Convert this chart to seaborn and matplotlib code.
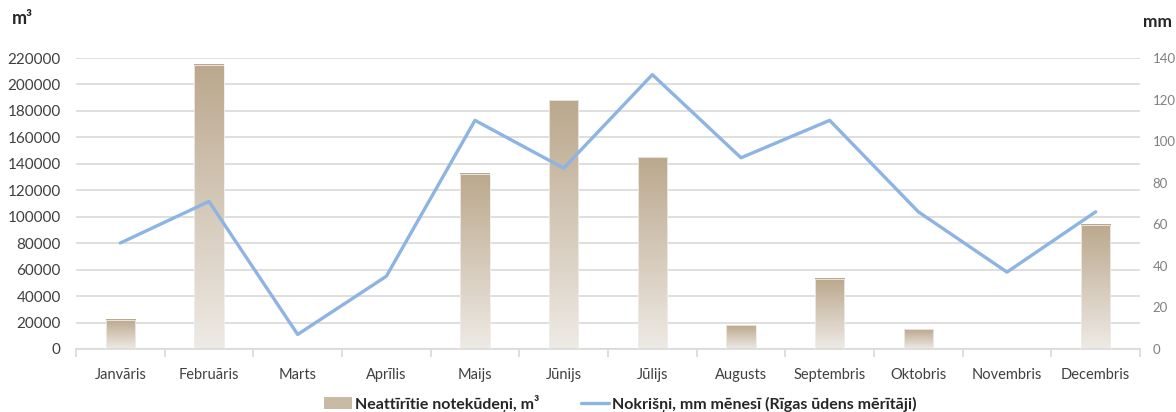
import numpy as np
import pandas as pd
import matplotlib
matplotlib.use("Agg")
import matplotlib.pyplot as plt
import seaborn as sns
from matplotlib.colors import LinearSegmentedColormap
from matplotlib.lines import Line2D
from matplotlib.patches import Patch

months = ["Janvāris", "Februāris", "Marts", "Aprīlis", "Maijs", "Jūnijs",
          "Jūlijs", "Augusts", "Septembris", "Oktobris", "Novembris", "Decembris"]
wastewater = [22000, 215000, 0, 0, 132500, 188000, 145000, 18000, 53000, 15000, 0, 94000]
precip = [51, 71, 7, 35, 110, 87, 132, 92, 110, 66, 37, 66]
left_ticks = list(range(0, 220001, 20000))
right_ticks = list(range(0, 141, 20))
bar_label = "Neattīrītie notekūdeņi, m³"
line_label = "Nokrišņi, mm mēnesī (Rīgas ūdens mērītāji)"

sns.set_theme(style="white")
plt.rcParams['font.family'] = ['Lato', 'DejaVu Sans']

df = pd.DataFrame({"month": months, "ww": wastewater, "pr": precip})

fig = plt.figure(figsize=(11.76, 4.12), dpi=100)
ax = fig.add_axes([76/1176, 63/412, (1140-76)/1176, (349-58)/412])

sns.barplot(data=df, x="month", y="ww", ax=ax, color="#BDAB91", width=0.33,
            saturation=1, zorder=2)

cmap = LinearSegmentedColormap.from_list("g", ["#EEEAE5", "#BBA88D"])
grad = np.linspace(0, 1, 256).reshape(-1, 1)
for p in ax.patches:
    x0, y0 = p.get_x(), p.get_y()
    w, h = p.get_width(), p.get_height()
    if h <= 0:
        p.set_visible(False)
        continue
    ax.imshow(grad, cmap=cmap, origin="lower", aspect="auto",
              extent=(x0, x0 + w, y0, y0 + h), zorder=2, interpolation="nearest")
    p.set_facecolor("none")
    p.set_edgecolor("#F1EDE8")
    p.set_linewidth(0.6)
    p.set_zorder(3)

ax.set_xlim(-0.5, 11.5)
ax.set_ylim(0, 220000)
ax.set_yticks(left_ticks)
ax.set_yticklabels([str(v) for v in left_ticks])
ax.yaxis.grid(True, color="#D9D9D9", linewidth=1.2, zorder=0)
ax.set_axisbelow(True)
ax.set_xlabel("")
ax.set_ylabel("")
for s in ["top", "right", "left"]:
    ax.spines[s].set_visible(False)
ax.spines["bottom"].set_color("#D9D9D9")
ax.spines["bottom"].set_linewidth(1.2)
ax.set_xticks(np.arange(12))
ax.set_xticklabels(months)
ax.set_xticks(np.arange(-0.5, 12, 1), minor=True)
ax.tick_params(axis="x", which="major", length=0, pad=14, labelsize=10.5, labelcolor="#404040")
ax.tick_params(axis="x", which="minor", length=6, width=1.2, color="#D9D9D9", bottom=True)
ax.tick_params(axis="y", length=0, pad=11, labelsize=11, labelcolor="#404040")

ax2 = ax.twinx()
sns.lineplot(data=df, x="month", y="pr", ax=ax2, color="#8DB4E2", linewidth=2.4,
             sort=False)
ax2.set_ylim(0, 140)
ax2.set_yticks(right_ticks)
ax2.set_yticklabels([str(v) for v in right_ticks])
ax2.set_ylabel("")
ax2.set_xlabel("")
ax2.set_xlim(-0.5, 11.5)
for s in ["top", "right", "left", "bottom"]:
    ax2.spines[s].set_visible(False)
ax2.tick_params(axis="y", length=0, pad=9, labelsize=9.5, labelcolor="#808080")
ax2.grid(False)

fig.text(12/1176, 1 - 18/412, "m³", fontsize=13, fontweight="bold", color="#262626",
         va="center", ha="left")
fig.text(1172/1176, 1 - 22/412, "mm", fontsize=12.5, fontweight="bold", color="#262626",
         va="center", ha="right")

handles = [Patch(facecolor="#C9BAA5", edgecolor="none", label=bar_label),
           Line2D([0], [0], color="#8DB4E2", linewidth=2.4, label=line_label)]
leg = fig.legend(handles=handles, loc="center", bbox_to_anchor=(620/1176, 1 - 403/412),
                 ncol=2, frameon=False, fontsize=11.5, handlelength=1.8,
                 handletextpad=0.15, columnspacing=2.6, borderaxespad=0)
for t in leg.get_texts():
    t.set_fontweight("bold")
    t.set_color("#262626")

fig.savefig("out.png", dpi=100)
